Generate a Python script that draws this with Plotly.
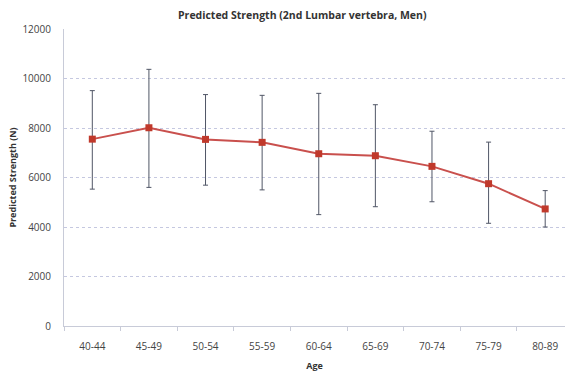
import plotly.graph_objects as go

ages = ["40-44", "45-49", "50-54", "55-59", "60-64", "65-69", "70-74", "75-79", "80-89"]
strength = [7550, 8010, 7540, 7420, 6960, 6880, 6450, 5750, 4730]
upper = [9510, 10370, 9350, 9320, 9400, 8940, 7870, 7430, 5470]
lower = [5530, 5600, 5690, 5500, 4500, 4820, 5020, 4150, 4000]

err_plus = [u - m for u, m in zip(upper, strength)]
err_minus = [m - l for m, l in zip(strength, lower)]

font_family = "Open Sans, Liberation Sans, sans-serif"

fig = go.Figure(
    go.Scatter(
        x=ages,
        y=strength,
        mode="lines+markers",
        line=dict(color="#c9504d", width=2),
        marker=dict(symbol="square", size=7, color="#c0392b"),
        error_y=dict(
            type="data",
            symmetric=False,
            array=err_plus,
            arrayminus=err_minus,
            color="#505666",
            thickness=1,
            width=2.5,
        ),
        showlegend=False,
    )
)

fig.update_layout(
    width=565,
    height=377,
    margin=dict(l=64, r=0, t=29, b=51, autoexpand=False),
    paper_bgcolor="white",
    plot_bgcolor="white",
    title=dict(
        text="<b>Predicted Strength (2nd Lumbar vertebra, Men)</b>",
        x=0.535,
        xanchor="center",
        y=0.96,
        yanchor="middle",
        font=dict(family=font_family, size=10.5, color="#333333"),
    ),
    font=dict(family=font_family, size=10, color="#444444"),
)

fig.update_xaxes(
    range=[-0.5, 8.35],
    automargin=False,
    title=dict(text="<b>Age</b>", font=dict(size=9, color="#333333"), standoff=10),
    showgrid=False,
    showline=True,
    linecolor="#c8cbd8",
    linewidth=1,
    ticks="outside",
    tickson="boundaries",
    ticklen=4,
    tickcolor="#c8cbd8",
    ticklabelstandoff=11,
    tickfont=dict(size=10, color="#444444"),
)

fig.update_yaxes(
    range=[0, 12000],
    dtick=2000,
    tickformat="d",
    automargin=False,
    title=dict(text="<b>Predicted Strength (N)</b>", font=dict(size=9, color="#333333"), standoff=4),
    showgrid=True,
    gridcolor="#c5c8e0",
    griddash="dot",
    gridwidth=1,
    showline=True,
    linecolor="#c8cbd8",
    linewidth=1,
    zeroline=False,
    ticks="",
    ticklabelstandoff=10,
    tickfont=dict(size=10, color="#444444"),
)

fig.write_html(
    "out.html",
    config={"displayModeBar": False},
    post_script="document.body.style.margin='0';document.body.style.overflow='hidden';",
)
